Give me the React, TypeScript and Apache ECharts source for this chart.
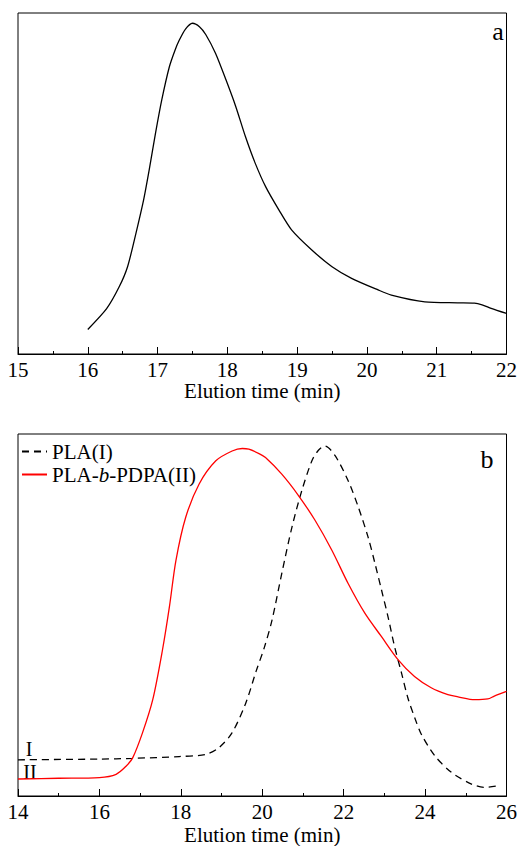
import React, { useEffect, useRef } from "react";
import * as echarts from "echarts";

// Panel a: elution time (min) and relative detector response
const aTime = [16.0, 16.27, 16.45, 16.57, 16.69, 16.8, 16.88, 16.97, 17.06, 17.17, 17.25, 17.31, 17.4, 17.5, 17.6, 17.69, 17.83, 17.98, 18.12, 18.26, 18.4, 18.55, 18.74, 18.92, 19.21, 19.5, 19.78, 20.16, 20.35, 20.83, 21.3, 21.54, 21.65, 21.78, 22.0];
const aSignal = [7.2, 13.3, 19.7, 25.6, 35.4, 45.2, 54.0, 64.7, 74.5, 84.3, 89.1, 92.0, 95.3, 97.0, 96.0, 93.7, 88.2, 80.4, 72.6, 63.7, 55.9, 49.0, 42.2, 36.4, 30.5, 25.6, 22.2, 18.8, 17.3, 15.3, 15.0, 14.9, 14.4, 13.4, 11.9];

// Panel b: PLA(I)
const plaTime = [14.0, 16.0, 16.82, 17.96, 18.61, 18.94, 19.26, 19.59, 19.85, 20.05, 20.24, 20.48, 20.73, 20.97, 21.22, 21.38, 21.54, 21.79, 22.11, 22.36, 22.6, 22.77, 22.93, 23.09, 23.25, 23.42, 23.58, 23.75, 23.91, 24.24, 24.65, 25.14, 25.46, 25.79];
const plaSignal = [10.0, 10.2, 10.4, 10.9, 11.5, 13.4, 17.5, 25.5, 34.5, 41.0, 48.6, 61.5, 74.3, 84.3, 92.6, 95.5, 96.7, 94.0, 87.1, 79.8, 71.5, 64.2, 56.9, 49.5, 41.3, 34.0, 27.0, 21.5, 17.0, 11.1, 6.5, 3.3, 2.4, 2.8];

// Panel b: PLA-b-PDPA(II)
const blockTime = [14.0, 15.0, 16.0, 16.41, 16.66, 16.82, 17.06, 17.31, 17.55, 17.72, 17.88, 18.12, 18.45, 18.86, 19.26, 19.51, 19.67, 19.92, 20.08, 20.48, 20.89, 21.3, 21.71, 22.11, 22.52, 22.93, 23.34, 23.74, 24.15, 24.56, 24.81, 25.22, 25.54, 25.7, 26.0];
const blockSignal = [4.7, 4.9, 5.1, 6.0, 8.3, 10.6, 17.5, 26.6, 40.4, 52.3, 65.1, 77.0, 86.2, 92.6, 95.3, 96.0, 95.8, 94.6, 93.5, 88.9, 83.0, 76.1, 67.9, 58.7, 50.5, 44.0, 37.6, 33.0, 29.9, 28.0, 27.4, 26.6, 26.8, 27.6, 28.9];

const seriesNames = ["PLA(I)", "PLA-b-PDPA(II)"];
const axisName = "Elution time (min)";

const zip = (xs: number[], ys: number[]) => xs.map((x, i) => [x, ys[i]]);

const FONT = "'Liberation Serif', 'Times New Roman', serif";
const FS = 21;

export default function App() {
  const ref = useRef<HTMLDivElement>(null);
  useEffect(() => {
    if (!ref.current) return;
    const chart = echarts.init(ref.current, null, { renderer: "svg" });
    const xAxisCommon = (min: number, max: number, interval: number, gridIndex: number, nameGap: number) => ({
      type: "value" as const,
      gridIndex,
      min,
      max,
      interval,
      name: axisName,
      nameLocation: "middle" as const,
      nameGap,
      nameTextStyle: { color: "#000", fontFamily: FONT, fontSize: FS },
      axisLine: { show: true, lineStyle: { color: "#000", width: 1 } },
      axisTick: { show: true, inside: true, length: 7, lineStyle: { color: "#000", width: 1 } },
      minorTick: { show: true, splitNumber: 2, length: 3, lineStyle: { color: "#000", width: 1 } },
      splitLine: { show: false },
      axisLabel: { color: "#000", fontFamily: FONT, fontSize: FS, margin: 5 },
    });
    const yAxisCommon = (gridIndex: number) => ({
      type: "value" as const,
      gridIndex,
      min: 0,
      max: 100,
      show: false,
      splitLine: { show: false },
    });
    chart.setOption({
      animation: false,
      backgroundColor: "#fff",
      grid: [
        { left: 18, top: 13, width: 491, height: 341, show: true, borderColor: "#000", borderWidth: 1, backgroundColor: "transparent" },
        { left: 18, top: 434, width: 491, height: 364, show: true, borderColor: "#000", borderWidth: 1, backgroundColor: "transparent" },
      ],
      xAxis: [xAxisCommon(15, 22, 1, 0, 26), xAxisCommon(14, 26, 2, 1, 28)],
      yAxis: [yAxisCommon(0), yAxisCommon(1)],
      legend: {
        data: seriesNames,
        orient: "vertical",
        left: 16,
        top: 436,
        itemWidth: 25,
        itemHeight: 10,
        itemGap: 2,
        itemStyle: { opacity: 0 },
        formatter: (name: string) =>
          name === seriesNames[1] ? "{n|PLA-}{i|b}{n|-PDPA(II)}" : "{n|" + name + "}",
        textStyle: {
          color: "#000",
          fontFamily: FONT,
          fontSize: FS,
          lineHeight: 19,
          rich: {
            n: { color: "#000", fontFamily: FONT, fontSize: FS, lineHeight: 19 },
            i: { color: "#000", fontFamily: FONT, fontSize: FS, fontStyle: "italic", lineHeight: 19 },
          },
        },
      },
      graphic: [
        { type: "text", x: 498, y: 31, style: { text: "a", fontFamily: FONT, fontSize: 26, fill: "#000", align: "center", verticalAlign: "middle" } },
        { type: "text", x: 487, y: 459, style: { text: "b", fontFamily: FONT, fontSize: 26, fill: "#000", align: "center", verticalAlign: "middle" } },
        { type: "text", x: 29, y: 749, style: { text: "I", fontFamily: FONT, fontSize: 20, fill: "#000", align: "center", verticalAlign: "middle" } },
        { type: "text", x: 30, y: 772, style: { text: "II", fontFamily: FONT, fontSize: 20, fill: "#000", align: "center", verticalAlign: "middle" } },
      ],
      series: [
        {
          type: "line",
          xAxisIndex: 0,
          yAxisIndex: 0,
          data: zip(aTime, aSignal),
          showSymbol: false,
          symbol: "none",
          smooth: 0.25,
          lineStyle: { color: "#000", width: 1.3 },
          silent: true,
        },
        {
          name: seriesNames[0],
          type: "line",
          xAxisIndex: 1,
          yAxisIndex: 1,
          data: zip(plaTime, plaSignal),
          symbol: "none",
          smooth: 0.3,
          itemStyle: { color: "#000" },
          lineStyle: { color: "#000", width: 1.3, type: [7, 5] },
        },
        {
          name: seriesNames[1],
          type: "line",
          xAxisIndex: 1,
          yAxisIndex: 1,
          data: zip(blockTime, blockSignal),
          symbol: "none",
          smooth: 0.3,
          itemStyle: { color: "#ff0000" },
          lineStyle: { color: "#ff0000", width: 1.3 },
        },
      ],
    });
    return () => chart.dispose();
  }, []);
  return (
    <div
      ref={ref}
      style={{ position: "absolute", left: 0, top: 0, width: 520, height: 846, background: "#fff" }}
    />
  );
}
